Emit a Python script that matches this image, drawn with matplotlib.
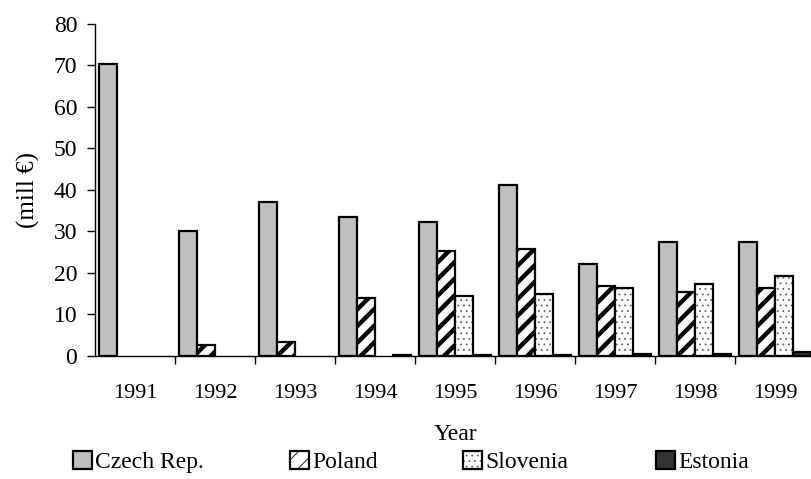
import numpy as np
import matplotlib
matplotlib.use("Agg")
import matplotlib.pyplot as plt

plt.rcParams['font.family'] = ['Liberation Serif', 'DejaVu Serif']

years = ['1991', '1992', '1993', '1994', '1995', '1996', '1997', '1998', '1999']
series = ['Czech Rep.', 'Poland', 'Slovenia', 'Estonia']

# mill EUR per year, NaN where there is no value
czech = [70.3, 30.1, 37.2, 33.5, 32.3, 41.1, 22.1, 27.4, 27.4]
poland = [np.nan, 2.7, 3.4, 14.0, 25.3, 25.8, 16.9, 15.3, 16.3]
slovenia = [np.nan, np.nan, np.nan, np.nan, 14.5, 14.9, 16.4, 17.3, 19.3]
estonia = [np.nan, np.nan, np.nan, 0.2, 0.3, 0.3, 0.6, 0.5, 0.9]

fig = plt.figure(figsize=(8.11, 4.79), dpi=100)
ax = fig.add_axes([0.1175, 0.2568, 0.8878, 0.6931])

x = np.arange(len(years))
w = 0.225
edge = dict(edgecolor='black', linewidth=1.6)

b_cz = ax.bar(x - 1.5 * w, czech, w, color='#c0c0c0', **edge)

# thick diagonal stripes
plt.rcParams['hatch.linewidth'] = 3.2
b_pl = ax.bar(x - 0.5 * w, poland, w, color='white', hatch='//', **edge)

# small grey dots, outline drawn separately in black
plt.rcParams['hatch.linewidth'] = 0.6
b_sl_fill = ax.bar(x + 0.5 * w, slovenia, w, color='white', hatch='...',
                   edgecolor='#666666', linewidth=0)
b_sl = ax.bar(x + 0.5 * w, slovenia, w, fill=False, **edge)

b_ee = ax.bar(x + 1.5 * w, estonia, w, color='#333333', **edge)

ax.set_xlim(-0.5, len(years) - 0.5)
ax.set_ylim(0, 80)
ax.set_yticks(np.arange(0, 81, 10))
ax.set_xticks(x)
ax.set_xticklabels(years)
ax.set_xticks(np.arange(len(years)) + 0.5, minor=True)

ax.tick_params(axis='y', labelsize=17, length=6, width=1, pad=7)
ax.tick_params(axis='x', which='major', labelsize=16, length=0, pad=20)
ax.tick_params(axis='x', which='minor', length=6, width=1)

ax.spines['top'].set_visible(False)
ax.spines['right'].set_visible(False)
ax.spines['left'].set_linewidth(1)
ax.spines['bottom'].set_linewidth(1)

ax.set_ylabel('(mill €)', fontsize=18, labelpad=10)
ax.set_xlabel('Year', fontsize=17, labelpad=15)

# legend entries spread along the bottom
handles = [b_cz, b_pl, (b_sl_fill, b_sl), b_ee]
xpos = [0.0896, 0.3576, 0.571, 0.809]
for h, lab, xp in zip(handles, series, xpos):
    fig.legend([h], [lab], loc='center left', bbox_to_anchor=(xp, 0.036),
               frameon=False, fontsize=17, handlelength=0.8, handleheight=0.8,
               handletextpad=0.15, borderpad=0, borderaxespad=0)

fig.savefig('out.png', dpi=100)
